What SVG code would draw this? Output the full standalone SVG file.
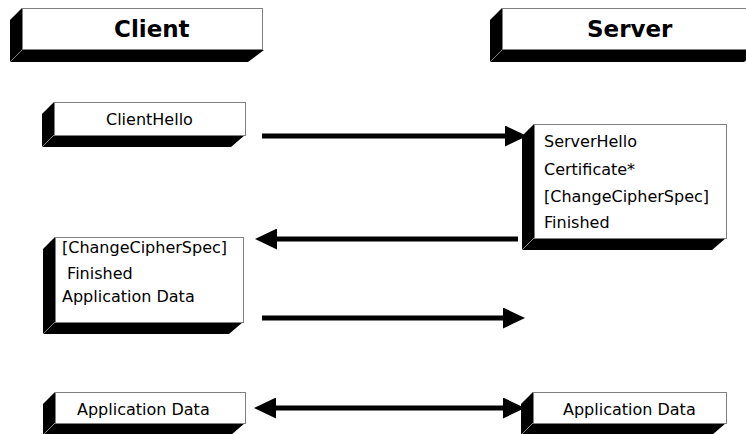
<svg xmlns="http://www.w3.org/2000/svg" width="746" height="434" viewBox="0 0 746 434">
<defs>
<style>
.band{fill:#000}
.seam{stroke:#808080;stroke-width:1}
.face{fill:#fff;stroke:#808080;stroke-width:1}
.t{font-family:"DejaVu Sans",Verdana,sans-serif;font-size:16px;fill:#000}
.h{font-family:"DejaVu Sans",Verdana,sans-serif;font-size:23px;font-weight:bold;fill:#000}
.arr{stroke:#000;stroke-width:5;fill:none}
</style>
<marker id="ah" markerUnits="userSpaceOnUse" markerWidth="22" markerHeight="21" refX="0" refY="10.5" orient="auto-start-reverse" viewBox="0 0 22 21">
<path d="M0,0 L22,10.5 L0,21 z" fill="#000"/>
</marker>
</defs>
<rect width="746" height="434" fill="#fff"/>

<g id="client-header">
<polygon class="band" points="22,8 22,50 10,62 10,20"/>
<polygon class="band" points="22,50 264,50 248,62 10,62"/>
<line class="seam" x1="22" y1="50" x2="10" y2="62"/>
<rect class="face" x="22.5" y="8.5" width="240" height="41"/>
<text class="h" x="114" y="37">Client</text>
</g>

<g id="server-header">
<polygon class="band" points="502,8 502,50 490,62 490,20"/>
<polygon class="band" points="502,50 760,50 744,62 490,62"/>
<line class="seam" x1="502" y1="50" x2="490" y2="62"/>
<rect class="face" x="502.5" y="8.5" width="260" height="41"/>
<text class="h" x="587" y="37">Server</text>
</g>

<g id="client-hello">
<polygon class="band" points="54,102 54,135 42,147 42,114"/>
<polygon class="band" points="54,135 245,135 231,147 42,147"/>
<line class="seam" x1="54" y1="135" x2="42" y2="147"/>
<rect class="face" x="54.5" y="102.5" width="191" height="33"/>
<text class="t" x="106" y="125">ClientHello</text>
</g>

<g id="server-hello">
<polygon class="band" points="534,124 534,238 522,250 522,136"/>
<polygon class="band" points="534,238 726,238 712,250 522,250"/>
<line class="seam" x1="534" y1="238" x2="522" y2="250"/>
<rect class="face" x="534.5" y="124.5" width="192" height="114"/>
<text class="t" x="544" y="147">ServerHello</text>
<text class="t" x="544" y="175">Certificate*</text>
<text class="t" x="544" y="202">[ChangeCipherSpec]</text>
<text class="t" x="544" y="228">Finished</text>
</g>

<g id="client-finished">
<polygon class="band" points="55,237 55,322 43,334 43,249"/>
<polygon class="band" points="55,322 243,322 229,334 43,334"/>
<line class="seam" x1="55" y1="322" x2="43" y2="334"/>
<rect class="face" x="55.5" y="237.5" width="188" height="85"/>
<text class="t" x="62" y="253">[ChangeCipherSpec]</text>
<text class="t" x="62" y="279" xml:space="preserve"> Finished</text>
<text class="t" x="62" y="302">Application Data</text>
</g>

<g id="client-appdata">
<polygon class="band" points="55,392 55,423 43,435 43,404"/>
<polygon class="band" points="55,423 245,423 231,435 43,435"/>
<line class="seam" x1="55" y1="423" x2="43" y2="435"/>
<rect class="face" x="55.5" y="392.5" width="190" height="31"/>
<text class="t" x="77" y="415">Application Data</text>
</g>

<g id="server-appdata">
<polygon class="band" points="533,392 533,423 521,435 521,404"/>
<polygon class="band" points="533,423 726,423 712,435 521,435"/>
<line class="seam" x1="533" y1="423" x2="521" y2="435"/>
<rect class="face" x="533.5" y="392.5" width="193" height="31"/>
<text class="t" x="563" y="415">Application Data</text>
</g>

<g id="connectors">
<line class="arr" x1="262" y1="136" x2="505" y2="136" marker-end="url(#ah)"/>
<line class="arr" x1="518" y1="239" x2="277" y2="239" marker-end="url(#ah)"/>
<line class="arr" x1="262" y1="318" x2="503" y2="318" marker-end="url(#ah)"/>
<line class="arr" x1="276" y1="408" x2="503" y2="408" marker-start="url(#ah)" marker-end="url(#ah)"/>
</g>
</svg>
